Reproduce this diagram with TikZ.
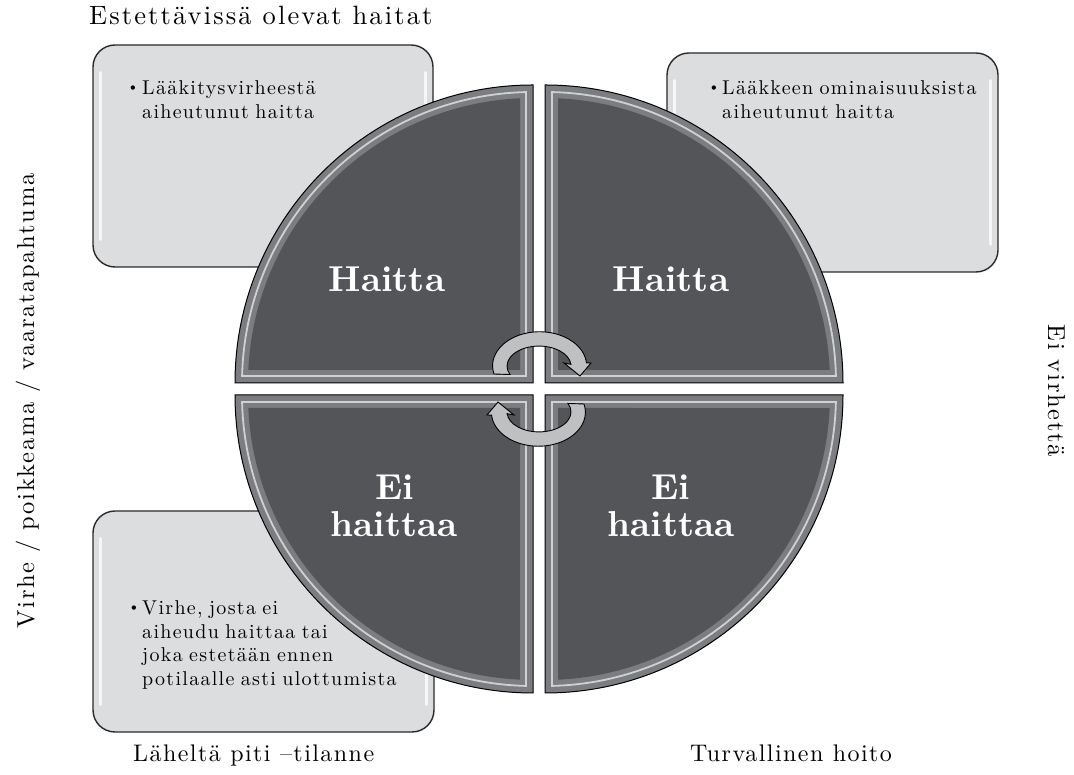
\documentclass[tikz,border=0pt]{standalone}
\usepackage{fontspec}
\setmainfont{lmroman10}[Extension=.otf, UprightFont=*-regular, BoldFont=*-bold, ItalicFont=*-italic, BoldItalicFont=*-bolditalic]
\definecolor{quaddark}{HTML}{545558}
\definecolor{bevelgray}{HTML}{7C7D80}
\definecolor{hilite}{HTML}{CFD0D2}
\definecolor{boxfill}{HTML}{DCDDDF}
\definecolor{boxline}{HTML}{2A2A2A}
\definecolor{arrowfill}{HTML}{BFC0C2}
\newcommand\myboxfont{\fontsize{20}{23.5}\selectfont\addfontfeatures{LetterSpace=6.5}\spaceskip=0.32em plus 0.1em\relax}
\newcommand\myquadrant[3]{%
  \begin{scope}[shift={(#1,#2)}, rotate=#3]
    \fill[bevelgray] (0,0) -- (298,0) arc[start angle=0,end angle=90,radius=298] -- cycle;
    \draw[hilite, line width=1.8pt] (7,7) -- (290.92,7) arc[start angle=1.378,end angle=88.622,radius=291] -- cycle;
    \fill[quaddark] (13,13) -- (284.7,13) arc[start angle=2.62,end angle=87.38,radius=285] -- cycle;
    \draw[black, line width=1pt] (0,0) -- (298,0) arc[start angle=0,end angle=90,radius=298] -- cycle;
  \end{scope}}
\newcommand\mycycarrow[3]{%
  \begin{scope}[shift={(#1,#2)}, rotate=#3]
    \filldraw[fill=arrowfill, draw=black, line width=0.9pt, line join=miter]
      (-45,-8) arc[start angle=194,end angle=5,x radius=47,y radius=34]
      -- (52,3) -- (41,-10) -- (25,3) -- (31.9,1.66)
      arc[start angle=5,end angle=205,x radius=32,y radius=20] -- cycle;
  \end{scope}}
\tikzset{
  lab/.style={inner sep=0pt, font=\fontsize{24.5}{28}\selectfont\addfontfeatures{LetterSpace=7}},
  titlelab/.style={inner sep=0pt, font=\fontsize{26.5}{30}\selectfont\addfontfeatures{LetterSpace=8}},
  botlab/.style={inner sep=0pt, font=\fontsize{24}{27}\selectfont\addfontfeatures{LetterSpace=6}},
  boxtext/.style={inner sep=0pt, font=\myboxfont},
  bul/.style={inner sep=0pt, font=\fontsize{15}{18}\selectfont},
  qlab/.style={inner sep=0pt, text=white, font=\fontsize{36}{38}\selectfont\bfseries, anchor=base},
  infobox/.style={draw=boxline, line width=1.4pt, fill=boxfill, rounded corners=22pt, inner sep=0pt},
  shine/.style={white, line width=3pt, line cap=round, opacity=0.75}
}
\begin{document}
\begin{tikzpicture}[x=1pt,y=1pt]
\useasboundingbox (0,0) rectangle (1074,775);
\fill[white] (0,0) rectangle (1074,775);
% info boxes
\node[infobox, minimum width=340pt, minimum height=222pt] (tlbox) at (263,619) {};
\node[infobox, minimum width=331pt, minimum height=219pt] (trbox) at (832.5,612.5) {};
\node[infobox, minimum width=341pt, minimum height=221pt] (blbox) at (263.5,153.5) {};
\draw[shine] ([xshift=8pt,yshift=-28pt]tlbox.north west) -- ([xshift=8pt,yshift=28pt]tlbox.south west);
\draw[shine] ([xshift=-8pt,yshift=-28pt]tlbox.north east) -- ([xshift=-8pt,yshift=28pt]tlbox.south east);
\draw[shine] ([xshift=8pt,yshift=-28pt]trbox.north west) -- ([xshift=8pt,yshift=28pt]trbox.south west);
\draw[shine] ([xshift=-8pt,yshift=-28pt]trbox.north east) -- ([xshift=-8pt,yshift=28pt]trbox.south east);
\draw[shine] ([xshift=8pt,yshift=-28pt]blbox.north west) -- ([xshift=8pt,yshift=28pt]blbox.south west);
\draw[shine] ([xshift=-8pt,yshift=-28pt]blbox.north east) -- ([xshift=-8pt,yshift=28pt]blbox.south east);
% box texts
\node[bul, anchor=base west] (tlbul) at (127,683) {\textbullet};
\node[boxtext, anchor=base west] (tltext) at (142,680) {\begin{tabular}[t]{@{}l@{}}Lääkitysvirheestä\\aiheutunut haitta\end{tabular}};
\node[bul, anchor=base west] (trbul) at (708,683) {\textbullet};
\node[boxtext, anchor=base west] (trtext) at (722,680) {\begin{tabular}[t]{@{}l@{}}Lääkkeen ominaisuuksista\\aiheutunut haitta\end{tabular}};
\node[bul, anchor=base west] (blbul) at (128,163) {\textbullet};
\node[boxtext, anchor=base west] (bltext) at (142,160) {\begin{tabular}[t]{@{}l@{}}Virhe, josta ei\\aiheudu haittaa tai\\joka estetään ennen\\potilaalle asti ulottumista\end{tabular}};
% quadrants
\myquadrant{533}{392}{90}
\myquadrant{545}{392}{0}
\myquadrant{533}{380}{180}
\myquadrant{545}{380}{270}
% quadrant labels
\node[qlab] (tlq) at (387,483) {Haitta};
\node[qlab] (trq) at (671,483) {Haitta};
\node[qlab] (blq1) at (395,275) {Ei};
\node[qlab] (blq2) at (394,238) {haittaa};
\node[qlab] (brq1) at (671,275) {Ei};
\node[qlab] (brq2) at (671,238) {haittaa};
% cycle arrows
\mycycarrow{539}{409}{0}
\mycycarrow{539}{363}{180}
% axis labels
\node[titlelab, anchor=base west] (title) at (89,750) {Estettävissä olevat haitat};
\node[botlab, anchor=base west] (nearmiss) at (133,13) {Läheltä piti –tilanne};
\node[botlab, anchor=base west] (safe) at (690,13) {Turvallinen hoito};
\node[lab, rotate=90, anchor=base] (errlab) at (34,374) {Virhe / poikkeama / vaaratapahtuma};
\node[lab, rotate=-90, anchor=base] (noerr) at (1048,384) {Ei virhettä};
\end{tikzpicture}
\end{document}
